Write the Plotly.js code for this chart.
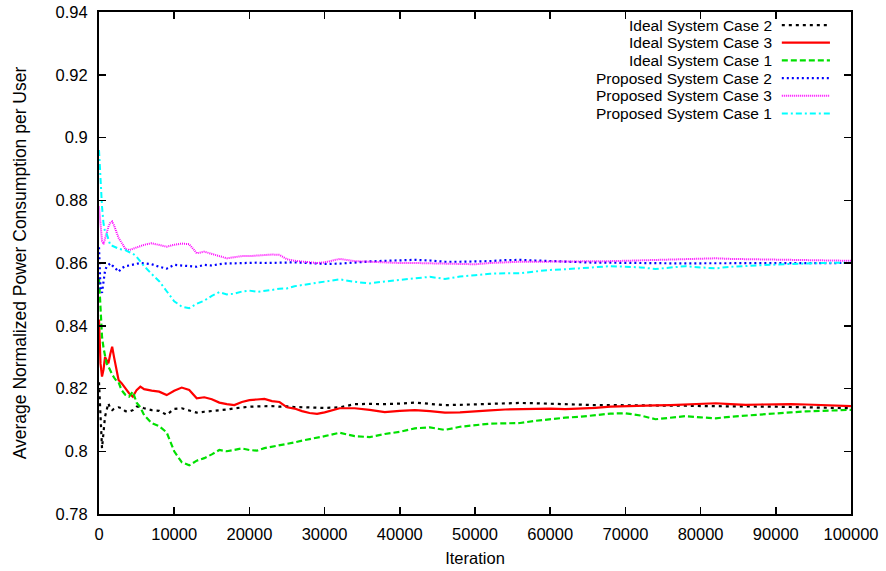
<!DOCTYPE html>
<html>
<head>
<meta charset="utf-8">
<script src="https://cdn.plot.ly/plotly-3.0.1.min.js"></script>
<style>html,body{margin:0;padding:0;background:#fff;}#chart{width:886px;height:571px;}</style>
</head>
<body>
<div id="chart"></div>
<script>
// ---- data ----
const iterations = [0,200,400,600,800,1000,1250,1500,1750,2000,2300,2600,3000,3500,4000,4500,5000,5500,6000,7000,8000,9000,10000,11000,12000,13000,14000,15000,16000,17000,18000,19000,20000,21000,22000,23000,24000,25000,26000,27000,28000,29000,30000,32000,34000,36000,38000,40000,42000,44000,46000,48000,50000,52000,54000,56000,58000,60000,62000,64000,66000,68000,70000,72000,74000,76000,78000,80000,82000,84000,86000,88000,90000,92000,94000,96000,98000,100000];

const seriesNames = ["Ideal System Case 2","Ideal System Case 3","Ideal System Case 1","Proposed System Case 2","Proposed System Case 3","Proposed System Case 1"];

const ideal2 = [0.822,0.812,0.801,0.806,0.811,0.813,0.8153,0.8135,0.8131,0.8135,0.8137,0.8140,0.8137,0.8128,0.8126,0.8131,0.8142,0.8142,0.8137,0.8131,0.8129,0.8116,0.8135,0.8137,0.8130,0.8123,0.8126,0.8128,0.8131,0.8133,0.8137,0.8140,0.8142,0.8143,0.8144,0.8144,0.8142,0.8143,0.8141,0.8140,0.8139,0.8138,0.8138,0.8140,0.8150,0.8151,0.8150,0.8152,0.8155,0.8151,0.8147,0.8148,0.8150,0.8152,0.8153,0.8154,0.8153,0.8151,0.8149,0.8148,0.8147,0.8147,0.8147,0.8146,0.8145,0.8145,0.8145,0.8144,0.8144,0.8143,0.8143,0.8142,0.8142,0.8141,0.8140,0.8139,0.8138,0.8137];

const ideal3 = [0.842,0.828,0.8238,0.826,0.830,0.829,0.828,0.831,0.8333,0.830,0.8265,0.8227,0.8217,0.8200,0.8185,0.8174,0.8195,0.8206,0.8198,0.8193,0.8190,0.8179,0.8193,0.8203,0.8195,0.8169,0.8172,0.8166,0.8155,0.8150,0.8147,0.8157,0.8163,0.8165,0.8167,0.8160,0.8157,0.8140,0.8136,0.8128,0.8122,0.8119,0.8124,0.8137,0.8137,0.8132,0.8125,0.8129,0.8131,0.8128,0.8123,0.8124,0.8126,0.8130,0.8133,0.8134,0.8134,0.8136,0.8134,0.8135,0.8138,0.8142,0.8144,0.8145,0.8146,0.8147,0.8149,0.8151,0.8153,0.8150,0.8148,0.8149,0.8150,0.8150,0.8149,0.8148,0.8146,0.8144];

const ideal1 = [0.855,0.845,0.8365,0.833,0.830,0.828,0.827,0.8255,0.8245,0.8235,0.8225,0.8220,0.8195,0.8180,0.8174,0.8190,0.8155,0.8140,0.8115,0.8090,0.8080,0.8060,0.8000,0.7965,0.7955,0.7970,0.7978,0.7990,0.8004,0.8000,0.8004,0.8009,0.8004,0.8002,0.8010,0.8014,0.8020,0.8022,0.8028,0.8034,0.8038,0.8044,0.8048,0.8059,0.8048,0.8045,0.8055,0.8062,0.8073,0.8076,0.8068,0.8078,0.8083,0.8088,0.8089,0.8090,0.8097,0.8103,0.8107,0.8110,0.8115,0.8120,0.8121,0.8114,0.8102,0.8108,0.8112,0.8108,0.8105,0.8110,0.8114,0.8116,0.8120,0.8124,0.8127,0.8129,0.8130,0.8132];

const proposed2 = [0.865,0.852,0.8505,0.855,0.8575,0.8588,0.8595,0.8599,0.8592,0.8588,0.8580,0.8572,0.8583,0.8590,0.8592,0.8594,0.8596,0.8600,0.8599,0.8596,0.8588,0.8582,0.8594,0.8592,0.8588,0.8588,0.8594,0.8592,0.8596,0.8599,0.8599,0.8600,0.8601,0.8601,0.8600,0.8601,0.8601,0.8603,0.8602,0.8601,0.8600,0.8598,0.8597,0.8598,0.8602,0.8605,0.8607,0.8608,0.8610,0.8608,0.8604,0.8604,0.8604,0.8606,0.8609,0.8610,0.8608,0.8606,0.8603,0.8602,0.8601,0.8601,0.8600,0.8600,0.8599,0.8599,0.8599,0.8599,0.8599,0.8599,0.8600,0.8600,0.8600,0.8600,0.8600,0.8600,0.8600,0.8600];

const proposed3 = [0.878,0.872,0.867,0.866,0.868,0.869,0.8715,0.8728,0.8732,0.8720,0.8700,0.8680,0.8665,0.8645,0.8641,0.8645,0.8650,0.8652,0.8658,0.8663,0.8657,0.8652,0.8658,0.8662,0.8660,0.8631,0.8636,0.8630,0.8622,0.8615,0.8618,0.8622,0.8622,0.8624,0.8626,0.8627,0.8626,0.8612,0.8607,0.8604,0.8601,0.8600,0.8602,0.8613,0.8606,0.8604,0.8601,0.8600,0.8600,0.8599,0.8596,0.8595,0.8596,0.8600,0.8603,0.8604,0.8604,0.8604,0.8604,0.8604,0.8605,0.8606,0.8607,0.8608,0.8609,0.8610,0.8612,0.8614,0.8615,0.8613,0.8612,0.8611,0.8611,0.8610,0.8610,0.8609,0.8608,0.8607];

const proposed1 = [0.896,0.8865,0.878,0.8726,0.870,0.8695,0.8675,0.8657,0.8655,0.8652,0.8650,0.8646,0.8643,0.8641,0.8635,0.8630,0.8620,0.8605,0.8590,0.8565,0.8542,0.8510,0.8478,0.8461,0.8456,0.8470,0.8480,0.8495,0.8507,0.8500,0.8502,0.8509,0.8512,0.8508,0.8510,0.8514,0.8518,0.8519,0.8526,0.8530,0.8533,0.8538,0.8541,0.8548,0.8540,0.8535,0.8541,0.8546,0.8551,0.8556,0.8549,0.8557,0.8561,0.8566,0.8567,0.8567,0.8573,0.8578,0.8580,0.8583,0.8588,0.8590,0.8588,0.8586,0.8581,0.8585,0.8590,0.8586,0.8583,0.8588,0.8591,0.8593,0.8595,0.8597,0.8599,0.8600,0.8601,0.8601];

const xTickVals = [0,10000,20000,30000,40000,50000,60000,70000,80000,90000,100000];
const yTickVals = [0.78,0.8,0.82,0.84,0.86,0.88,0.9,0.92,0.94];

// ---- styles ----
const seriesData = [ideal2, ideal3, ideal1, proposed2, proposed3, proposed1];
const styles = [
  {color:'#000000', dash:'3px,4px', width:2.2},
  {color:'#ff0000', dash:'solid', width:2.2},
  {color:'#00e000', dash:'6px,3px', width:2.2},
  {color:'#0000ff', dash:'2px,3px', width:2.2},
  {color:'#ff00ff', dash:'1px,1px', width:2},
  {color:'#00ffff', dash:'6px,3px,2px,3px', width:2}
];

const traces = seriesData.map((ys, i) => ({
  x: iterations, y: ys, type:'scatter', mode:'lines', name: seriesNames[i],
  line: {color: styles[i].color, dash: styles[i].dash, width: styles[i].width},
  showlegend:false, hoverinfo:'skip'
}));

const fontFam = '"Liberation Sans", Arial, sans-serif';
const rowStep = 0.0352;
const firstRow = 0.974;
const annotations = [];
const shapes = [];
seriesNames.forEach((nm, i) => {
  const yp = firstRow - i*rowStep;
  annotations.push({xref:'paper', yref:'paper', x:0.896, y:yp, xanchor:'right', yanchor:'middle',
    text:nm, showarrow:false, borderpad:0, font:{family:fontFam, size:15.5, color:'#000'}});
  shapes.push({type:'line', xref:'paper', yref:'paper', x0:0.908, x1:0.972, y0:yp, y1:yp,
    line:{color:styles[i].color, dash:styles[i].dash, width:styles[i].width}});
});

const axisCommon = {
  showgrid:false, zeroline:false, showline:true, linecolor:'#000', linewidth:2,
  mirror:'ticks', ticks:'inside', ticklen:7, tickwidth:1.5, tickcolor:'#000',
  tickfont:{family:fontFam, size:16.5, color:'#000'}
};

const layout = {
  width:886, height:571,
  margin:{l:99, r:35, t:12, b:57},
  paper_bgcolor:'#fff', plot_bgcolor:'#fff',
  font:{family:fontFam, size:16, color:'#000'},
  xaxis: Object.assign({}, axisCommon, {
    range:[0,100000], tickvals:xTickVals, tickformat:'d', ticklabelstandoff:4,
    title:{text:'Iteration', font:{family:fontFam, size:16.5, color:'#000'}, standoff:11}
  }),
  yaxis: Object.assign({}, axisCommon, {
    range:[0.78,0.94], tickvals:yTickVals, ticklabelstandoff:6,
    title:{text:'Average Normalized Power Consumption per User', font:{family:fontFam, size:17.5, color:'#000'}, standoff:24}
  }),
  annotations: annotations,
  shapes: shapes,
  showlegend:false
};

Plotly.newPlot('chart', traces, layout, {displayModeBar:false, staticPlot:true});
</script>
</body>
</html>
